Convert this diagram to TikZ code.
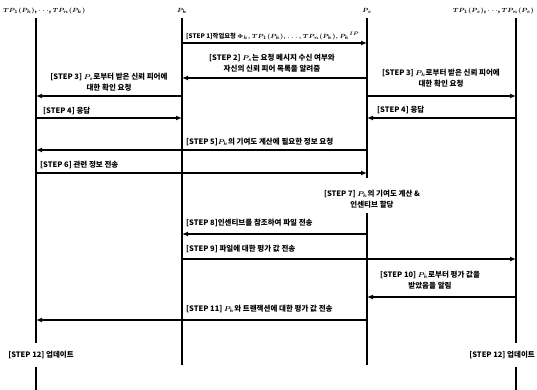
\documentclass[tikz,border=0pt]{standalone}
\usepackage{fontspec}
\setmainfont{Noto Sans CJK KR}
\usetikzlibrary{arrows.meta}
\begin{document}
\begin{tikzpicture}[x=1pt,y=-1pt,
  life/.style={line width=1.1pt},
  msg/.style={line width=1.4pt,-{Latex[length=6pt,width=5pt]}},
  lbl/.style={font=\fontsize{7.5}{10.5}\selectfont\bfseries\boldmath, inner sep=0pt, align=center},
  hdr/.style={font=\fontsize{6.5}{8}\selectfont\bfseries\boldmath, inner sep=0pt}]
\useasboundingbox[fill=white] (0,0) rectangle (537,390);

% headers
\node[hdr, anchor=west] (hL) at (3,11) {$TP_1(P_k)$, $\cdots$, $TP_n(P_k)$};
\node[hdr] (hK) at (182,11) {$P_k$};
\node[hdr] (hS) at (367,11) {$P_s$};
\node[hdr, anchor=east] (hR) at (534,11) {$TP_1(P_s)$, $\cdots$, $TP_n(P_s)$};

% lifeline anchors
\coordinate (L) at (36,18);
\coordinate (K) at (182,18);
\coordinate (S) at (367,18);
\coordinate (R) at (516,18);

% message rows
\coordinate (y1) at (0,43);
\coordinate (y2) at (0,78);
\coordinate (y3) at (0,96);
\coordinate (y4) at (0,118);
\coordinate (y5) at (0,150);
\coordinate (y6) at (0,173);
\coordinate (y8) at (0,234);
\coordinate (y9) at (0,259);
\coordinate (y10) at (0,297);
\coordinate (y11) at (0,320);
\coordinate (ySa) at (0,178);
\coordinate (ySb) at (0,213);
\coordinate (yA) at (0,343);
\coordinate (yB) at (0,367);
\coordinate (yC) at (0,365);
\coordinate (yD) at (0,390);

% lifelines
\draw[life] (L) -- (L |- yA);
\draw[life] (L |- yB) -- (L |- yD);
\draw[life] (K) -- (K |- yC);
\draw[life] (S) -- (S |- ySa);
\draw[life] (S |- ySb) -- (S |- yC);
\draw[life] (R) -- (R |- yA);
\draw[life] (R |- yB) -- (R |- yD);

% step labels
\node[lbl, font=\fontsize{6.3}{9}\selectfont\bfseries\boldmath, anchor=south west] (t1) at (186,40) {[STEP 1]작업요청 $\Phi_k, TP_1(P_k), \ldots, TP_n(P_k), P_{k}{}^{IP}$};
\node[lbl] (t2) at (272,63) {[STEP 2] $P_s$는 요청 메시지 수신 여부와\\자신의 신뢰 피어 목록을 알려줌};
\node[lbl] (t3L) at (109,82) {[STEP 3] $P_s$로부터 받은 신뢰 피어에\\대한 확인 요청};
\node[lbl] (t3R) at (441,78) {[STEP 3] $P_k$로부터 받은 신뢰 피어에\\대한 확인 요청};
\node[lbl, anchor=south west] (t4L) at (43,115) {[STEP 4] 응답};
\node[lbl, anchor=south west] (t4R) at (377,114) {[STEP 4] 응답};
\node[lbl, anchor=south west] (t5) at (186,146) {[STEP 5]$P_k$의 기여도 계산에 필요한 정보 요청};
\node[lbl, anchor=south west] (t6) at (40,169) {[STEP 6] 관련 정보 전송};
\node[lbl] (t7) at (372,199) {[STEP 7] $P_k$의 기여도 계산 \&\\인센티브 할당};
\node[lbl, anchor=south west] (t8) at (186,227) {[STEP 8]인센티브를 참조하여 파일 전송};
\node[lbl, anchor=south west] (t9) at (186,253) {[STEP 9] 파일에 대한 평가 값 전송};
\node[lbl] (t10) at (430,280) {[STEP 10] $P_k$로부터 평가 값을\\받았음을 알림};
\node[lbl, anchor=south west] (t11) at (186,313) {[STEP 11] $P_k$와 트랜잭션에 대한 평가 값 전송};
\node[lbl] (t12L) at (41,355) {[STEP 12] 업데이트};
\node[lbl, anchor=east] (t12R) at (535,355) {[STEP 12] 업데이트};

% messages
\draw[msg] (K |- y1) -- (S |- y1);
\draw[msg] (S |- y2) -- (K |- y2);
\draw[msg] (K |- y3) -- (L |- y3);
\draw[msg] (S |- y3) -- (R |- y3);
\draw[msg] (L |- y4) -- (K |- y4);
\draw[msg] (R |- y4) -- (S |- y4);
\draw[msg] (S |- y5) -- (L |- y5);
\draw[msg] (L |- y6) -- (S |- y6);
\draw[msg] (S |- y8) -- (K |- y8);
\draw[msg] (K |- y9) -- (R |- y9);
\draw[msg] (R |- y10) -- (S |- y10);
\draw[msg] (S |- y11) -- (L |- y11);
\end{tikzpicture}
\end{document}
